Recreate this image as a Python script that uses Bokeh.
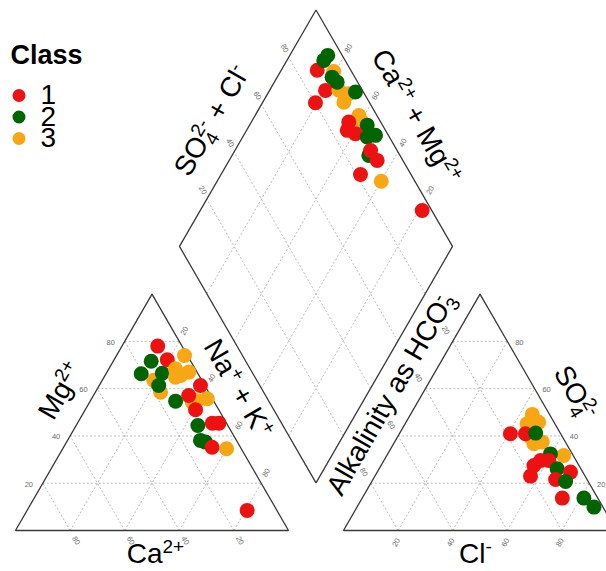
import math
from bokeh.plotting import figure
from bokeh.models import Range1d, ColumnDataSource
from bokeh.core.properties import value
from bokeh.embed import file_html
from bokeh.resources import INLINE

# ---------------- data (percent of meq) ----------------
class_labels = ["1", "2", "3"]
class_colors = ["#ee1111", "#006400", "#f7a614"]
ticks = [20, 40, 60, 80]

# cation triangle
cat_class = [3, 3, 2, 2, 2, 2, 1, 1, 3, 3, 3, 3, 3, 2, 3, 3, 3, 1, 1, 1, 2, 2, 2, 1, 1, 1, 3, 1]
cat_mg = [63.5, 58.5, 71.6, 66.3, 66.5, 61.3, 78.0, 72.2, 74.0, 68.4, 64.8, 65.6, 67.0, 54.7,
          55.0, 55.7, 54.3, 61.3, 57.1, 51.1, 44.4, 38.1, 37.4, 45.4, 45.4, 35.2, 34.6, 8.5]
cat_nak = [18.9, 23.9, 13.9, 12.9, 20.5, 21.8, 13.1, 19.5, 24.9, 24.4, 26.2, 27.7, 30.0, 31.3,
           39.1, 42.4, 37.6, 37.1, 34.9, 40.4, 44.6, 48.7, 50.9, 49.4, 51.8, 54.4, 60.0, 80.6]

# anion triangle
an_class = [3, 3, 3, 3, 3, 3, 1, 1, 2, 3, 2, 1, 1, 1, 2, 1, 1, 1, 2, 1, 2, 2]
an_so4 = [49.1, 45.1, 45.8, 39.5, 36.7, 37.4, 40.9, 40.9, 41.2, 31.7, 32.4, 27.5, 29.6, 29.6,
          26.1, 24.7, 23.0, 21.6, 20.7, 13.7, 13.7, 9.9]
an_cl = [44.6, 44.7, 48.6, 48.8, 51.4, 54.1, 40.7, 46.2, 49.8, 64.8, 59.6, 56.0, 57.4, 60.4,
         65.2, 70.8, 57.0, 66.9, 71.0, 73.3, 81.2, 86.8]

# diamond
dia_class = [1, 1, 1, 3, 3, 3, 3, 2, 2, 2, 2, 2, 3, 3, 2, 1, 1, 1, 2, 2, 2, 1, 1, 1, 3, 1]
dia_so4cl = [87.7, 80.2, 86.5, 93.5, 91.4, 90.7, 94.3, 92.2, 94.7, 91.7, 92.5, 97.1, 93.4, 93.2,
             94.4, 88.3, 86.0, 88.3, 91.9, 95.3, 88.6, 90.3, 90.6, 81.5, 87.7, 96.5]
dia_camg = [86.8, 80.6, 79.5, 80.5, 74.7, 70.3, 70.3, 86.5, 86.1, 79.9, 77.0, 68.2, 62.0, 59.4,
            56.9, 64.3, 63.1, 59.4, 54.4, 51.7, 49.9, 50.3, 45.8, 48.9, 39.9, 18.7]

# ---------------- layout ----------------
W, H = 606, 571
PAGE_H = 571


def Y(py):
    return PAGE_H - py


SIDE = 273.0
HT = SIDE * math.sqrt(3) / 2
BASE = Y(530)
LX = 15.0
GAP = 55.0
RX = LX + SIDE + GAP
BX = LX + SIDE + GAP / 2
BY = BASE + (GAP / 2) * math.sqrt(3)


def cat_xy(na, mg):
    return (LX + SIDE * (na + mg / 2), BASE + HT * mg)


def an_xy(cl, so4):
    return (RX + SIDE * (cl + so4 / 2), BASE + HT * so4)


def dia_xy(s, c):
    return (BX + SIDE * (s - c) / 2, BY + HT * (s + c))


FONT = "Liberation Sans"

p = figure(width=W, height=H, x_range=Range1d(0, W), y_range=Range1d(PAGE_H - H, PAGE_H),
           output_backend="svg", toolbar_location=None, min_border=0,
           x_axis_location=None, y_axis_location=None)
p.grid.visible = False
p.outline_line_color = None
p.background_fill_color = "white"
p.border_fill_color = "white"

# ---------------- grid lines ----------------
gxs, gys = [], []
for t in ticks:
    k = t / 100
    segs = [
        (cat_xy(0, k), cat_xy(1 - k, k)),
        (cat_xy(k, 0), cat_xy(k, 1 - k)),
        (cat_xy(1 - k, 0), cat_xy(0, 1 - k)),
        (an_xy(0, k), an_xy(1 - k, k)),
        (an_xy(k, 0), an_xy(k, 1 - k)),
        (an_xy(1 - k, 0), an_xy(0, 1 - k)),
        (dia_xy(k, 0), dia_xy(k, 1)),
        (dia_xy(0, k), dia_xy(1, k)),
    ]
    for a, b in segs:
        gxs.append([a[0], b[0]])
        gys.append([a[1], b[1]])
p.multi_line(gxs, gys, line_color="#b4b4b4", line_width=0.9, line_dash="2 2")

# ---------------- outlines ----------------
outl = [
    [cat_xy(0, 0), cat_xy(1, 0), cat_xy(0, 1)],
    [an_xy(0, 0), an_xy(1, 0), an_xy(0, 1)],
    [dia_xy(0, 0), dia_xy(1, 0), dia_xy(1, 1), dia_xy(0, 1)],
]
p.patches([[q[0] for q in o] for o in outl], [[q[1] for q in o] for o in outl],
          fill_color=None, line_color="#3a3a3a", line_width=1.3)

# ---------------- tick labels ----------------
tx, ty, tt, ta = [], [], [], []


def add_tick(pt, off, txt, deg):
    tx.append(pt[0] + off[0])
    ty.append(pt[1] + off[1])
    tt.append(txt)
    ta.append(math.radians(deg))


for t in ticks:
    k = t / 100
    s = str(t)
    add_tick(cat_xy(0, k), (-14, -1), s, 0)
    add_tick(cat_xy(1 - k, 0), (6, -10), s, -60)
    add_tick(cat_xy(k, 1 - k), (5, 10.5), s, 60)
    add_tick(an_xy(1 - k, k), (12, -1), s, 0)
    add_tick(an_xy(k, 0), (-2, -12), s, 60)
    add_tick(an_xy(0, 1 - k), (-7, 11), s, -60)
    add_tick(dia_xy(k, 1), (-4, 9), s, -60)
    add_tick(dia_xy(1, k), (5, 9), s, 60)

p.text(x=tx, y=ty, text=tt, angle=ta, text_font=value(FONT), text_font_size=value("7.5px"),
       text_color="#6a6a6a", text_align="center", text_baseline="middle")

# ---------------- points ----------------
def pts(xy_list, classes):
    return dict(x=[q[0] for q in xy_list], y=[q[1] for q in xy_list],
                c=[class_colors[k - 1] for k in classes])


cat_src = ColumnDataSource(pts([cat_xy(n / 100, m / 100) for n, m in zip(cat_nak, cat_mg)], cat_class))
an_src = ColumnDataSource(pts([an_xy(c / 100, s / 100) for c, s in zip(an_cl, an_so4)], an_class))
dia_src = ColumnDataSource(pts([dia_xy(s / 100, c / 100) for s, c in zip(dia_so4cl, dia_camg)], dia_class))
for src in (cat_src, an_src, dia_src):
    p.scatter("x", "y", source=src, size=15, fill_color="c", line_color=None)

# ---------------- titles ----------------
CW = {' ': 0.278, '+': 0.584, '-': 0.333, 'A': 0.667, 'C': 0.722, 'H': 0.722, 'K': 0.667,
      'M': 0.833, 'N': 0.722, 'O': 0.778, 'S': 0.667, 'a': 0.556, 'g': 0.556, 'i': 0.222,
      'k': 0.5, 'l': 0.222, 'n': 0.556, 's': 0.5, 't': 0.278, 'y': 0.5}
MID = 0.35  # distance from baseline to middle of the text box, in em


def tw(s, fs):
    return sum(CW.get(ch, 0.556) for ch in s) * fs


ttx, tty, ttt, tta, tts = [], [], [], [], []


def compose(parts, cx, cy, deg, size=28.0):
    """Lay out text pieces (normal / superscript / subscript) along a rotated baseline,
    centred on (cx, cy)."""
    small = size * 0.68
    th = math.radians(deg)
    dx, dy = math.cos(th), math.sin(th)
    nx, ny = -dy, dx
    items = []
    cur = 0.0
    for txt, role, adv in parts:
        fs = size if role == "b" else small
        shift = {"b": 0.0, "sup": size * 0.36, "sub": -size * 0.22}[role]
        items.append((txt, fs, shift, cur))
        if adv:
            cur += tw(txt, fs)
    total = cur
    for txt, fs, shift, off in items:
        if not txt.strip():
            continue
        along = off - total / 2
        across = shift - size * MID + fs * MID
        ttx.append(cx + along * dx + across * nx)
        tty.append(cy + along * dy + across * ny)
        ttt.append(txt)
        tta.append(th)
        tts.append(f"{fs:.1f}px")


compose([("Mg", "b", 1), ("2+", "sup", 1)], 60, Y(390), 60)
compose([("Na", "b", 1), ("+", "sup", 1), (" ", "b", 1), ("+", "b", 1), (" ", "b", 1),
         ("K", "b", 1), ("+", "sup", 1)], 238, Y(388), -60)
compose([("Ca", "b", 1), ("2+", "sup", 1)], 155, Y(553), 0)
compose([("Alkalinity as HCO", "b", 1), ("-", "sup", 0), ("3", "sub", 1)], 390, Y(393), 60)
compose([("SO", "b", 1), ("4", "sub", 0), ("2-", "sup", 1)], 575, Y(392), -60)
compose([("Cl", "b", 1), ("-", "sup", 1)], 475, Y(553), 0)
compose([("SO", "b", 1), ("4", "sub", 0), ("2-", "sup", 1), (" ", "b", 1), ("+", "b", 1),
         (" ", "b", 1), ("Cl", "b", 1), ("-", "sup", 1)], 211, Y(120), 60)
compose([("Ca", "b", 1), ("2+", "sup", 1), (" ", "b", 1), ("+", "b", 1), (" ", "b", 1),
         ("Mg", "b", 1), ("2+", "sup", 1)], 416, Y(116), -60)

title_src = ColumnDataSource(dict(x=ttx, y=tty, text=ttt, angle=tta, size=tts))
p.text(x="x", y="y", text="text", angle="angle", text_font_size="size", source=title_src,
       text_font=value(FONT), text_color="black", text_align="left", text_baseline="middle")

# ---------------- legend ----------------
p.text(x=[10], y=[Y(54)], text=["Class"], text_font=value(FONT), text_font_style="bold",
       text_font_size=value("27px"), text_color="black", text_align="left", text_baseline="middle")
leg_dot_y = [Y(95), Y(116.5), Y(138)]
leg_txt_y = [Y(94), Y(115.5), Y(137)]
p.scatter(x=[18.5] * 3, y=leg_dot_y, size=13, fill_color=class_colors, line_color=None)
p.text(x=[40] * 3, y=leg_txt_y, text=class_labels, text_font=value(FONT), text_font_size=value("28px"),
       text_color="black", text_align="left", text_baseline="middle")

open("out.html", "w").write(file_html(p, INLINE))
